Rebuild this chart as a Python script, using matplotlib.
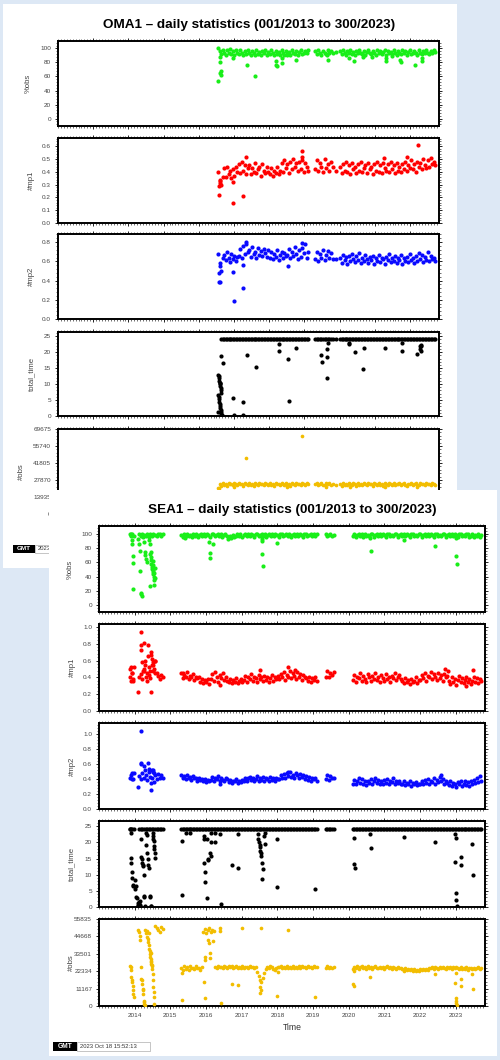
import numpy as np
import matplotlib
matplotlib.use('Agg')
import matplotlib.pyplot as plt
from matplotlib.patches import Rectangle
from matplotlib.ticker import MultipleLocator

plt.rcParams['font.family'] = ['Liberation Sans', 'DejaVu Sans']

# ---------------- axis settings ----------------
XMIN, XMAX = 2013.0, 2023.82
YEARS = list(range(2014, 2024))

# ---------------- SEA1 data ----------------
SEA_SEGS = [(2013.86, 2013.97), (2014.13, 2014.79), (2015.30, 2019.10),
            (2019.35, 2019.58), (2020.12, 2023.72)]

sea_obs_pct_band = [
    [100, 98, 99, 97],
    [99, 96, 100, 98, 97, 100, 95, 99, 97, 100, 98, 96, 99, 100, 97, 99],
    [98, 95, 99, 97, 100, 96, 98, 95,
     100, 97, 99, 95, 98, 100, 96, 99, 97, 100, 98, 95, 99, 100, 96, 98, 100, 97, 99, 95, 98, 100,
     96, 93, 97, 94, 98, 95, 97,
     100, 97, 99, 95, 98, 100, 96, 99, 97, 100, 98, 95, 99, 100, 96, 98, 100, 97, 99, 95, 98, 100,
     96, 99, 97, 100, 98, 95, 99, 100, 96, 98, 100, 97, 99, 95, 98, 100, 96, 99, 97, 100, 98, 95,
     99, 100, 96, 98, 100, 97, 99, 96, 100],
    [99, 96, 98, 100, 97, 98],
    [96, 99, 95, 98, 100, 97, 99, 95, 100, 97, 98, 96, 100, 99, 95, 98, 100, 97, 99, 96, 100, 98,
     95, 99, 100, 97, 98, 96, 100, 99, 95, 98, 100, 97, 99, 96, 100, 98, 95, 99, 100, 97, 98, 96,
     100, 99, 95, 98, 100, 97, 99, 96, 100, 98, 95, 99, 100, 97, 98, 96, 100, 99, 95, 98, 100, 97,
     99, 96, 100, 98, 95, 99, 100, 97, 98, 96, 100, 99, 95, 97, 99, 95, 98, 96, 99, 95, 98]]
sea_obs_pct_out_t = [2013.90, 2013.91, 2013.92, 2013.93, 2013.94, 2013.95, 2013.96,
                     2014.10, 2014.12, 2014.14, 2014.16, 2014.18, 2014.19, 2014.20, 2014.24, 2014.26,
                     2014.28, 2014.30, 2014.32, 2014.34, 2014.40, 2014.42, 2014.44, 2014.45, 2014.46,
                     2014.47, 2014.48, 2014.49, 2014.50, 2014.51, 2014.52, 2014.53, 2014.54, 2014.55,
                     2014.43, 2014.47, 2014.50, 2014.52, 2014.55, 2014.57, 2014.58,
                     2015.40, 2016.09, 2016.10, 2016.12, 2016.20, 2017.55, 2017.56, 2017.57, 2017.58,
                     2017.59, 2018.00, 2020.61, 2020.62, 2021.56, 2022.43, 2023.01, 2023.02, 2023.03]
sea_obs_pct_out_v = [100, 96, 91, 86, 68, 59, 22,
                     92, 86, 76, 48, 17, 15, 13, 95, 88,
                     74, 70, 65, 60, 91, 86, 72, 67, 63,
                     58, 53, 51, 49, 47, 43, 40, 35, 28,
                     27, 74, 56, 62, 45, 38, 52,
                     94, 88, 73, 66, 85, 96, 93, 90, 71,
                     54, 87, 94, 76, 91, 83, 94, 68, 58]

sea_mp1_band = [
    [40, 36, 45, 52],
    [40, 44, 38, 47, 41, 36, 43, 39, 55, 48, 60, 45, 42, 38, 43, 40],
    [45, 39, 43, 41, 46, 38, 42, 40, 44, 37, 41, 39, 40, 35, 38,
     33, 37, 34, 38, 32,
     38, 44, 36, 46, 40, 35, 43, 39, 45, 37, 41, 36,
     34, 38, 33, 37, 35, 39, 33, 36, 38, 34,
     37, 42, 35, 40, 38, 44, 36, 41, 39, 35, 43, 38, 40, 36, 42, 37, 41, 35, 39, 43, 36, 40, 38, 42,
     38, 44, 40, 46, 37, 43, 41, 47, 39, 45, 42, 38, 46, 40, 44, 37, 43, 41, 39,
     36, 41, 35, 39, 37, 40, 36],
    [41, 47, 40, 45, 43, 46],
    [37, 43, 35, 41, 39, 45, 36, 42, 38, 34, 44, 40, 36, 42, 38, 45, 37, 41, 35, 43, 39, 36, 44, 38,
     41, 35, 42, 39, 45, 37, 40, 43, 38,
     36, 33, 39, 35, 37, 32, 38, 34, 36, 40, 33, 37,
     37, 43, 39, 45, 36, 42, 40, 46, 38, 44, 41, 37, 45, 39, 43, 36, 44, 40, 42,
     36, 32, 40, 34, 38, 31, 37, 42, 35, 39, 33, 37, 41, 34, 38, 32, 36, 40, 35, 39, 33, 38, 36]]
sea_mp1_out_t = [2013.88, 2013.90, 2013.92, 2013.94, 2013.96, 2014.08, 2014.17, 2014.18, 2014.19,
                 2014.20, 2014.27, 2014.28, 2014.30, 2014.37, 2014.38, 2014.45, 2014.46, 2014.47,
                 2014.48, 2014.50, 2014.52, 2014.54, 2014.56, 2014.58, 2014.40, 2014.42, 2014.35,
                 2014.25, 2014.22, 2016.40, 2017.52, 2018.30, 2018.50, 2015.35, 2022.70, 2022.78,
                 2023.30, 2023.47]
sea_mp1_out_v = [0.50, 0.52, 0.45, 0.36, 0.38, 0.23, 0.94, 0.78, 0.72,
                 0.58, 0.81, 0.60, 0.55, 0.78, 0.65, 0.22, 0.70, 0.66,
                 0.62, 0.58, 0.55, 0.50, 0.45, 0.60, 0.52, 0.48, 0.45,
                 0.50, 0.47, 0.31, 0.49, 0.52, 0.49, 0.45, 0.50, 0.47,
                 0.30, 0.49]

sea_mp2_band = [
    [42, 46, 40, 48],
    [44, 40, 48, 42, 46, 39, 50, 43, 41, 52, 45, 40, 47, 42, 45, 41],
    [46, 41, 44, 40, 45, 42, 43, 39, 44, 41, 42, 38, 41, 39, 40,
     37, 40, 36, 39, 38,
     39, 43, 37, 41, 40, 44, 38, 42, 39, 37, 41, 40,
     36, 39, 35, 38, 37, 40, 35, 38, 36, 39,
     38, 42, 37, 41, 43, 39, 42, 38, 40, 44, 37, 41, 39, 43, 38, 42, 40, 37, 43, 39, 41, 38, 42, 40,
     40, 45, 42, 47, 41, 48, 44, 50, 43, 46, 42, 48, 45, 41, 47, 43, 45, 40, 44,
     39, 43, 38, 41, 40, 42, 38],
    [40, 45, 39, 44, 42, 41],
    [34, 39, 33, 37, 41, 35, 40, 34, 38, 32, 37, 35, 40, 34, 38, 42, 35, 39, 33, 37, 34, 39, 35, 40,
     33, 38, 36, 41, 34, 38, 35, 37, 33,
     33, 37, 32, 35, 34, 37, 31, 35, 33, 36, 32, 34,
     34, 38, 33, 39, 35, 40, 34, 38, 36, 41, 34, 39, 36, 43, 37, 40, 34, 38, 35,
     32, 37, 31, 35, 34, 30, 36, 33, 37, 31, 34, 38, 32, 36, 31, 37, 34, 39, 35, 41, 36, 44, 38]]
sea_mp2_out_t = [2014.10, 2014.18, 2014.17, 2014.19, 2014.27, 2014.38, 2014.45, 2014.46, 2014.48,
                 2014.50, 2014.53, 2014.55, 2014.40, 2014.30, 2013.92, 2013.95, 2016.40, 2018.30,
                 2022.60]
sea_mp2_out_v = [0.30, 1.04, 0.62, 0.60, 0.57, 0.62, 0.25, 0.35, 0.52,
                 0.50, 0.36, 0.48, 0.54, 0.52, 0.48, 0.40, 0.33, 0.50,
                 0.45]

sea_tt_band = [[24.0] * 4, [24.0] * 16, [24.0] * 92, [24.0] * 6, [24.0] * 87]
sea_tt_out_t = [2013.88, 2013.89, 2013.90, 2013.91, 2013.92, 2013.93, 2013.94, 2013.95,
                2014.00, 2014.02, 2014.03, 2014.05, 2014.06, 2014.08, 2014.09, 2014.10, 2014.11,
                2014.12, 2014.13, 2014.14, 2014.15, 2014.16,
                2014.18, 2014.19, 2014.20, 2014.21, 2014.22, 2014.23, 2014.25, 2014.26, 2014.27,
                2014.28, 2014.32, 2014.33, 2014.34, 2014.35, 2014.36, 2014.38, 2014.40, 2014.42,
                2014.44, 2014.45, 2014.46, 2014.50, 2014.51, 2014.52, 2014.53, 2014.54, 2014.55,
                2014.56, 2014.57,
                2015.32, 2015.33, 2015.45, 2015.55, 2015.93, 2015.94, 2015.95, 2015.96, 2015.97,
                2016.03, 2016.04, 2016.05, 2016.06, 2016.12, 2016.13, 2016.14, 2016.15, 2016.24,
                2016.25, 2016.40, 2016.41, 2016.74, 2016.90, 2016.91,
                2017.45, 2017.47, 2017.49, 2017.50, 2017.51, 2017.52, 2017.53, 2017.55, 2017.56,
                2017.60, 2017.58, 2017.62, 2017.64, 2017.66, 2017.98, 2017.99, 2019.05,
                2020.15, 2020.16, 2020.17, 2020.61, 2020.62, 2021.56, 2022.43, 2022.99, 2023.00,
                2022.98, 2023.01, 2023.02, 2023.03, 2023.15, 2023.16, 2023.46, 2023.47]
sea_tt_out_v = [24.0, 23.0, 15.2, 13.6, 10.7, 9.0, 6.9, 6.6,
                8.5, 5.6, 6.6, 3.1, 2.8, 1.2, 0.7, 0.4, 1.5,
                0.2, 0.9, 0.5, 1.8, 0.3,
                20.9, 15.5, 14.7, 13.6, 13.1, 12.6, 10.0, 3.3, 3.1,
                0.2, 23.0, 19.3, 22.4, 16.7, 14.9, 13.1, 12.1, 3.5,
                3.1, 0.4, 0.2, 22.9, 21.9, 21.1, 20.4, 18.8, 18.0,
                16.7, 15.2,
                20.4, 3.6, 23.0, 23.0, 22.0, 21.0, 13.6, 10.7, 7.8,
                21.0, 2.9, 15.0, 14.5, 16.7, 15.7, 20.0, 23.0, 23.0,
                20.0, 22.5, 1.0, 13.0, 12.2, 22.7,
                22.7, 21.0, 20.0, 19.3, 18.6, 17.3, 16.7, 15.7, 13.6,
                11.7, 8.6, 22.0, 23.0, 19.5, 21.1, 6.2, 5.6,
                21.3, 13.4, 12.0, 22.6, 18.3, 21.7, 20.2, 22.6, 21.3,
                13.8, 4.3, 2.3, 0.3, 15.6, 12.9, 19.6, 9.9]

# obs in thousands
sea_nobs_band = [
    [], [],
    [24.5, 23.4, 25.6, 24.0, 24.8, 23.2, 25.4, 24.2, 24.6, 23.6, 25.5, 24.3, 24.7, 23.3, 24.9,
     47.5, 49.5, 46.8, 48.7, 50.0, 47.2, 49.0, 48.0,
     25.2, 24.4, 25.8, 24.9, 25.1, 24.3, 25.6, 25.0, 24.5, 25.7, 24.9, 25.4, 24.2, 25.1, 25.6, 24.6,
     25.3, 24.4, 25.7, 24.6, 25.2, 24.8, 24.3, 25.5, 24.9, 25.1, 24.4, 25.0,
     22.0, 19.5, 17.0, 15.5, 18.0, 21.0, 23.5,
     25.0, 24.4, 25.5, 24.8, 24.0, 23.4, 24.2, 24.8, 24.9, 25.5, 24.5, 25.2, 24.4, 25.6, 24.6, 25.3,
     24.5, 25.7, 24.7, 25.0, 24.3, 25.4, 24.6, 25.6, 24.9, 25.3, 24.4, 25.5, 24.8, 25.0, 24.4, 25.6,
     24.9, 25.0],
    [24.6, 25.5, 24.5, 25.3, 24.4, 25.0],
    [23.8, 25.2, 24.5, 25.5, 24.0, 24.8, 25.4, 24.2, 24.9, 24.0, 25.4, 24.7, 25.0, 24.0, 24.8, 25.5,
     24.4, 24.1, 25.3, 24.7, 25.0, 24.0, 24.8, 25.4, 24.3, 24.8, 24.0, 25.1, 24.6, 23.9, 25.0, 24.2,
     24.6,
     24.0, 23.2, 24.4, 23.1, 23.9, 22.8, 23.7, 22.6, 23.6, 22.5, 23.4, 22.7, 23.6, 22.8, 23.8, 23.0,
     24.0, 23.3, 24.2,
     24.2, 24.9, 23.8, 25.0, 24.3, 23.9, 24.9, 24.1, 25.1, 24.4, 23.9, 25.0, 24.2, 24.8, 23.8, 24.9,
     24.1, 25.1, 24.4, 23.9, 24.8, 23.5, 24.5, 23.8, 24.8, 23.4, 24.2, 24.7, 23.6, 24.6, 23.5, 24.4,
     25.0, 24.0, 24.7]]
sea_nobs_out_t = [2013.88, 2013.89, 2013.90, 2013.91, 2013.92, 2013.93, 2013.94, 2013.95, 2013.96,
                  2013.97, 2014.10, 2014.12, 2014.14, 2014.16, 2014.18, 2014.19, 2014.20, 2014.21,
                  2014.22, 2014.23, 2014.24, 2014.25, 2014.26, 2014.27, 2014.28,
                  2014.30, 2014.32, 2014.34, 2014.36, 2014.38, 2014.40, 2014.41, 2014.42, 2014.43,
                  2014.44, 2014.45, 2014.46, 2014.47, 2014.48, 2014.49, 2014.50, 2014.51, 2014.52,
                  2014.53, 2014.54, 2014.55, 2014.45, 2014.47, 2014.49,
                  2014.58, 2014.62, 2014.66, 2014.70, 2014.74, 2014.78, 2014.35, 2014.40,
                  2015.32, 2015.33, 2015.95, 2015.96, 2015.97, 2015.98, 2016.05, 2016.08, 2016.10,
                  2016.12, 2016.20, 2016.40, 2016.40, 2016.41, 2016.74, 2016.90, 2017.00, 2017.55,
                  2017.50, 2017.52, 2017.55, 2018.00, 2018.01, 2018.30, 2019.05,
                  2020.13, 2020.14, 2020.15, 2020.61, 2021.56, 2022.43, 2022.99, 2023.00, 2023.01,
                  2023.02, 2023.03, 2023.00, 2023.15, 2023.16, 2023.46, 2023.47]
sea_nobs_out_v = [25.7, 24.8, 23.4, 18.6, 16.9, 15.4, 12.6, 10.4, 7.8,
                  5.6, 48.9, 47.2, 45.0, 42.4, 25.1, 17.5, 16.4, 14.3,
                  11.0, 10.0, 7.8, 3.5, 2.4, 1.3, 0.4,
                  48.9, 46.7, 44.5, 42.8, 41.3, 38.9, 36.8, 35.1, 33.5,
                  31.4, 30.3, 28.1, 27.0, 25.5, 23.8, 20.6, 16.4, 12.1,
                  8.9, 5.6, 1.3, 34.0, 29.0, 26.5,
                  51.1, 50.0, 48.9, 47.8, 50.5, 49.5, 48.0, 47.0,
                  3.9, 21.2, 15.4, 5.4, 31.6, 29.4, 42.4, 40.2, 33.8,
                  30.5, 42.0, 50.0, 48.0, 2.0, 14.0, 13.2, 50.0, 49.9,
                  12.0, 8.2, 10.0, 6.5, 22.0, 48.9, 6.0,
                  14.3, 13.0, 22.7, 18.8, 22.5, 20.7, 15.0, 5.0, 3.5,
                  2.0, 0.5, 21.0, 17.3, 13.0, 20.7, 10.8]

# ---------------- OMA1 data ----------------
OMA_SEGS = [(2017.55, 2020.10), (2020.30, 2020.80), (2020.90, 2020.90), (2021.01, 2023.71)]

oma_obs_pct_band = [
    [100, 96, 92, 98, 94, 91, 97, 93, 99, 92, 96, 90, 97, 94, 92, 98, 93, 91, 96, 92, 97, 94, 91, 96,
     93, 90, 97, 92, 95, 91, 96, 93, 97, 91, 95, 92, 98, 93, 91, 96, 92, 95, 90, 97, 93, 91, 96, 92,
     95, 91, 97, 93, 92, 96, 91, 95, 97, 92, 94, 96, 93, 97],
    [96, 92, 97, 93, 91, 96, 94, 92, 97, 93, 96, 94],
    [95],
    [96, 92, 97, 94, 91, 96, 93, 97, 92, 95, 91, 96, 93, 97, 94, 92, 96, 91, 95, 97, 93, 92, 96, 94,
     91, 97, 93, 96, 92, 95, 97, 91, 96, 93, 95, 92, 97, 93, 91, 96, 94, 92, 97, 93, 96, 91, 95, 97,
     92, 93, 96, 94, 91, 97, 93, 92, 96, 94, 97, 93, 92, 96, 94, 97, 95]]
oma_obs_pct_out_t = [2017.55, 2017.62, 2017.61, 2017.63, 2017.60, 2017.59, 2017.98, 2018.36, 2018.60,
                     2019.19, 2019.20, 2019.21, 2019.35, 2019.36, 2019.50, 2019.75, 2020.66, 2020.64,
                     2021.25, 2021.41, 2021.66, 2021.68, 2021.91, 2022.31, 2022.32, 2022.48, 2022.72,
                     2022.73, 2023.14, 2023.33, 2023.34]
oma_obs_pct_out_v = [54, 62, 65, 68, 80, 88, 86, 76, 61,
                     82, 77, 75, 87, 79, 90, 83, 84, 90,
                     87, 82, 88, 91, 88, 86, 82, 89, 83,
                     81, 77, 82, 86]

oma_mp1_band = [
    [40, 33, 30, 36, 43, 36, 44, 38, 41, 35, 42, 37, 44, 40, 46, 39, 48, 41, 45, 38, 43,
     45, 38, 43, 40, 47, 39, 42, 44, 37, 46, 41, 39, 44, 40, 38, 43, 37, 41, 39, 44, 38,
     41, 47, 40, 49, 43, 46, 39, 48, 42, 50, 44, 47, 41, 48, 42, 49, 40, 47, 44, 41],
    [42, 49, 41, 47, 44, 40, 50, 43, 46, 41, 48, 44],
    [41],
    [44, 39, 46, 41, 48, 40, 45, 38, 47, 42, 44, 39, 46, 41, 48, 40, 43, 45, 39, 47, 42, 44, 38, 46,
     41, 48, 40, 45, 39, 47, 43, 41, 46, 40, 48, 42, 45, 39, 47, 41, 44, 40, 46, 42, 48, 41, 45, 43,
     49, 42, 46, 40, 48, 44, 47, 42, 50, 45, 43, 49, 44, 51, 46, 48, 45]]
oma_mp1_out_t = [2017.58, 2017.57, 2017.59, 2017.60, 2017.98, 2017.97, 2018.24, 2018.34, 2019.92,
                 2019.93, 2022.25, 2022.91, 2023.22]
oma_mp1_out_v = [0.22, 0.29, 0.31, 0.34, 0.16, 0.32, 0.21, 0.52, 0.56,
                 0.52, 0.51, 0.52, 0.61]

oma_mp2_band = [
    [68, 58, 50, 64, 67, 61, 70, 63, 59, 68, 62, 66, 60, 65, 66, 73, 64, 76, 68, 78, 70,
     72, 65, 75, 68, 70, 64, 74, 67, 71, 66, 73, 69, 65, 72, 64, 70, 62, 68, 65, 72, 61,
     67, 70, 63, 69, 66, 67, 73, 63, 70, 66, 75, 68, 62, 72, 65, 74, 69, 78, 64, 70],
    [62, 70, 60, 68, 64, 72, 61, 67, 71, 63, 69, 62],
    [62],
    [64, 58, 67, 61, 65, 57, 66, 60, 68, 62, 59, 66, 61, 69, 58, 64, 60, 67, 62, 58, 65, 61, 66, 57,
     63, 60, 67, 59, 64, 62, 57, 65, 61, 68, 59, 63, 60, 66, 58, 64, 61, 67, 57, 63, 60, 65, 59, 68,
     61, 64, 58, 66, 60, 69, 62, 67, 59, 65, 61, 70, 60, 66, 62, 64, 60]]
oma_mp2_out_t = [2017.56, 2017.60, 2017.58, 2017.59, 2017.98, 2017.99, 2018.24, 2018.25, 2018.34,
                 2019.52, 2019.92]
oma_mp2_out_v = [0.39, 0.39, 0.48, 0.55, 0.49, 0.19, 0.32, 0.56, 0.80,
                 0.55, 0.79]

oma_tt_band = [[1.2, 10.4] + [24.0] * 60, [24.0] * 12, [24.0], [24.0] * 65]
oma_tt_out_t = [2017.55, 2017.56, 2017.57, 2017.58, 2017.59, 2017.60, 2017.61, 2017.62, 2017.63,
                2017.64, 2017.55, 2017.56, 2017.57, 2017.58, 2017.59, 2017.60, 2017.61, 2017.62,
                2017.63, 2017.64, 2017.65, 2017.62, 2017.68,
                2017.98, 2017.99, 2018.24, 2018.25, 2018.36, 2018.61, 2019.27, 2019.28, 2019.54,
                2019.55, 2019.75, 2020.48, 2020.49, 2020.63, 2020.64, 2020.65, 2020.66, 2021.44,
                2021.67, 2021.68, 2021.25, 2021.26, 2022.29, 2022.76, 2022.77, 2023.19, 2023.28,
                2023.29, 2023.30, 2023.31, 2023.32]
oma_tt_out_v = [12.9, 12.5, 11.8, 11.0, 10.4, 10.0, 9.4, 8.7, 8.0,
                7.3, 6.7, 6.0, 5.2, 4.5, 3.8, 3.1, 2.5, 1.9,
                1.2, 0.6, 0.2, 18.8, 16.6,
                5.6, 0.2, 4.4, 0.4, 19.2, 15.3, 22.5, 20.2, 17.8,
                4.8, 21.4, 19.2, 16.9, 21.1, 18.5, 11.8, 23.0, 19.9,
                14.6, 21.4, 22.5, 23.0, 21.4, 20.4, 23.0, 19.4, 22.0,
                21.0, 20.5, 21.8, 22.3]

oma_nobs_band = [
    [21.0, 24.5, 23.2, 25.6, 24.0, 24.9, 23.3, 25.5, 24.2, 25.0, 23.6, 25.7, 24.4, 23.4, 25.3, 24.3,
     24.8, 23.2, 25.4, 24.6, 23.7, 25.6, 24.1, 24.7, 23.1, 25.2, 24.5, 23.5, 25.5, 24.2, 24.9, 23.4,
     25.3, 24.4, 23.6, 25.7, 24.0, 24.7, 23.3, 25.4, 24.3, 24.9, 23.5, 25.2, 24.6, 23.7, 25.6, 24.1,
     24.8, 23.2, 25.5, 24.5, 23.4, 25.3, 24.2, 24.9, 23.6, 25.8, 24.4, 24.0, 25.4, 24.6],
    [24.2, 25.5, 23.6, 24.9, 25.7, 24.1, 23.4, 25.2, 24.6, 25.6, 23.7, 24.7],
    [23.4],
    [24.6, 23.3, 25.4, 24.1, 24.8, 23.5, 25.6, 24.3, 23.7, 25.2, 24.5, 23.2, 25.5, 24.0, 24.7, 23.4,
     25.3, 24.4, 23.6, 25.7, 24.2, 24.9, 23.3, 25.2, 24.6, 23.7, 25.4, 24.1, 24.8, 23.1, 25.6, 24.3,
     23.5, 25.3, 24.5, 24.0, 25.5, 23.4, 24.8, 24.2, 25.2, 23.6, 24.6, 25.6, 24.1, 23.3, 24.9, 24.3,
     25.4, 23.7, 24.7, 25.7, 24.0, 23.4, 25.3, 24.4, 24.8, 23.5, 25.5, 24.2, 24.9, 23.6, 25.2, 24.5,
     24.1]]
oma_nobs_out_t = [2017.56, 2017.58, 2018.34, 2019.92, 2018.00, 2019.50, 2021.30, 2022.30, 2023.20,
                  2020.60]
oma_nobs_out_v = [19.7, 21.0, 46.2, 64.0, 22.0, 22.2, 22.0, 21.8, 22.0, 22.3]

# ---------------- colours ----------------
C_GREEN = '#19ee19'
C_RED = '#ff0000'
C_BLUE = '#0a0aff'
C_BLACK = '#000000'
C_GOLD = '#f2bd00'
BG = '#dde8f5'

W, H = 500, 1060
fig = plt.figure(figsize=(W / 100, H / 100), dpi=100)
fig.patch.set_facecolor(BG)


def add_rect(x0, y0, x1, y1, z, fc='white', ec='none', lw=0.0):
    r = Rectangle((x0 / W, 1 - y1 / H), (x1 - x0) / W, (y1 - y0) / H,
                  transform=fig.transFigure, facecolor=fc, edgecolor=ec, lw=lw, zorder=z)
    fig.add_artist(r)


def series(segs, bands, out_t, out_v, scale, out_scale):
    ts, vs = [], []
    for (a, b), vals in zip(segs, bands):
        if len(vals) == 0:
            continue
        ts.append(np.linspace(a, b, len(vals)))
        vs.append(np.asarray(vals, float) * scale)
    ts.append(np.asarray(out_t, float))
    vs.append(np.asarray(out_v, float) * out_scale)
    return np.concatenate(ts), np.concatenate(vs)


def panel(x0, x1, y0, y1, z, ylim, yticks, yfmt, yminor, ylabel, ylab_x,
          t, v, color, msize, xlabels=False):
    ax = fig.add_axes([x0 / W, 1 - y1 / H, (x1 - x0) / W, (y1 - y0) / H], zorder=z)
    ax.set_facecolor('white')
    ax.scatter(t, v, s=msize, c=color, linewidths=0, zorder=3)
    ax.set_xlim(XMIN, XMAX)
    ax.set_ylim(*ylim)
    ax.set_xticks(YEARS)
    ax.xaxis.set_minor_locator(MultipleLocator(1 / 12))
    if xlabels:
        ax.set_xticklabels([str(y) for y in YEARS])
    else:
        ax.set_xticklabels([])
    ax.set_yticks(yticks)
    ax.set_yticklabels([yfmt(y) for y in yticks])
    ax.yaxis.set_minor_locator(MultipleLocator(yminor))
    ax.tick_params(which='major', direction='out', length=2.4, width=0.6,
                   top=True, right=True, labelsize=4.6, labelcolor='#444444', pad=2.6)
    ax.tick_params(which='minor', direction='out', length=1.2, width=0.4,
                   top=True, right=True)
    for s in ax.spines.values():
        s.set_linewidth(1.4)
    fig.text(ylab_x / W, 1 - (y0 + y1) / 2 / H, ylabel, rotation=90, ha='center',
             va='center', fontsize=5.6, color='#444444', zorder=z + 0.5)
    return ax


f_int = lambda y: '%d' % round(y)
f_1 = lambda y: '%.1f' % y

MS = 9      # marker size for the daily points

# ---------------- card 1 : OMA1 ----------------
add_rect(3, 4, 457, 568, 0.2)
fig.text(249 / W, 1 - 25 / H, 'OMA1 \u2013 daily statistics (001/2013 to 300/2023)',
         ha='center', va='center', fontsize=9.7, fontweight='bold', zorder=1.5)

OX0, OX1 = 58, 439
t, v = series(OMA_SEGS, oma_obs_pct_band, oma_obs_pct_out_t, oma_obs_pct_out_v, 1, 1)
panel(OX0, OX1, 41, 126, 1, (-10.5, 110.5), [0, 20, 40, 60, 80, 100], f_int, 4,
      '%obs', 28, t, v, C_GREEN, MS)
t, v = series(OMA_SEGS, oma_mp1_band, oma_mp1_out_t, oma_mp1_out_v, 0.01, 1)
panel(OX0, OX1, 138, 223, 1, (0, 0.665), [0, 0.1, 0.2, 0.3, 0.4, 0.5, 0.6], f_1, 0.02,
      '#mp1', 31, t, v, C_RED, MS)
t, v = series(OMA_SEGS, oma_mp2_band, oma_mp2_out_t, oma_mp2_out_v, 0.01, 1)
panel(OX0, OX1, 234, 319, 1, (0, 0.885), [0, 0.2, 0.4, 0.6, 0.8], f_1, 0.04,
      '#mp2', 31, t, v, C_BLUE, MS)
t, v = series(OMA_SEGS, oma_tt_band, oma_tt_out_t, oma_tt_out_v, 1, 1)
panel(OX0, OX1, 332, 416, 1, (0, 26.3), [0, 5, 10, 15, 20, 25], f_int, 1,
      'total_time', 32, t, v, C_BLACK, MS)
t, v = series(OMA_SEGS, oma_nobs_band, oma_nobs_out_t, oma_nobs_out_v, 1000, 1000)
OMAX = 69675
panel(OX0, OX1, 429, 514, 1, (0, OMAX), list(np.linspace(0, OMAX, 6)), f_int, OMAX / 25,
      '#obs', 21, t, v, C_GOLD, MS - 2)

# GMT stamp (card 1) - its right part lies under card 2
add_rect(13, 545, 35, 553, 1.5, fc='black')
fig.text(24 / W, 1 - 549 / H, 'GMT', ha='center', va='center', fontsize=4.6,
         fontweight='bold', color='white', zorder=1.6)
add_rect(35, 545, 60, 553, 1.5, fc='white', ec='#999999', lw=0.4)
fig.text(38 / W, 1 - 549 / H, '2023', ha='left', va='center',
         fontsize=4.2, color='#333333', zorder=1.6)

# ---------------- card 2 : SEA1 ----------------
add_rect(49, 490, 497, 1056, 2)
fig.text(292 / W, 1 - 510 / H, 'SEA1 \u2013 daily statistics (001/2013 to 300/2023)',
         ha='center', va='center', fontsize=9.7, fontweight='bold', zorder=4)

SX0, SX1 = 99, 485
t, v = series(SEA_SEGS, sea_obs_pct_band, sea_obs_pct_out_t, sea_obs_pct_out_v, 1, 1)
panel(SX0, SX1, 526, 612, 3, (-9.5, 110.5), [0, 20, 40, 60, 80, 100], f_int, 4,
      '%obs', 70, t, v, C_GREEN, MS)
t, v = series(SEA_SEGS, sea_mp1_band, sea_mp1_out_t, sea_mp1_out_v, 0.01, 1)
panel(SX0, SX1, 624, 711, 3, (0, 1.034), [0, 0.2, 0.4, 0.6, 0.8, 1.0], f_1, 0.04,
      '#mp1', 72, t, v, C_RED, MS)
t, v = series(SEA_SEGS, sea_mp2_band, sea_mp2_out_t, sea_mp2_out_v, 0.01, 1)
panel(SX0, SX1, 723, 809, 3, (0, 1.147), [0, 0.2, 0.4, 0.6, 0.8, 1.0], f_1, 0.04,
      '#mp2', 72, t, v, C_BLUE, MS)
t, v = series(SEA_SEGS, sea_tt_band, sea_tt_out_t, sea_tt_out_v, 1, 1)
panel(SX0, SX1, 821, 907, 3, (0, 26.6), [0, 5, 10, 15, 20, 25], f_int, 1,
      'total_time', 72, t, v, C_BLACK, MS)
t, v = series(SEA_SEGS, sea_nobs_band, sea_nobs_out_t, sea_nobs_out_v, 1000, 1000)
SMAX = 55835
panel(SX0, SX1, 919, 1006, 3, (0, SMAX), list(np.linspace(0, SMAX, 6)), f_int, SMAX / 25,
      '#obs', 71, t, v, C_GOLD, MS - 2, xlabels=True)
fig.text(292 / W, 1 - 1028 / H, 'Time', ha='center', va='center', fontsize=6.2,
         color='#333333', zorder=4)

# GMT stamp (card 2)
add_rect(53, 1042, 77, 1051, 4, fc='black')
fig.text(65 / W, 1 - 1046.5 / H, 'GMT', ha='center', va='center', fontsize=4.8,
         fontweight='bold', color='white', zorder=4.1)
add_rect(77, 1042, 150, 1051, 4, fc='white', ec='#999999', lw=0.4)
fig.text(80 / W, 1 - 1046.5 / H, '2023 Oct 18 15:52:13', ha='left', va='center',
         fontsize=4.2, color='#333333', zorder=4.1)

fig.savefig('out.png', dpi=100, facecolor=BG)
